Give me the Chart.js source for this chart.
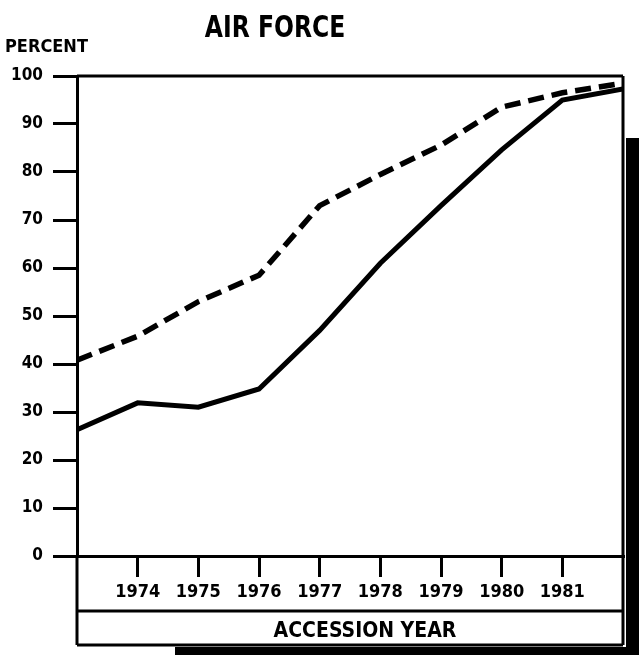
<!DOCTYPE html>
<html>
<head>
<meta charset="utf-8">
<script src="https://cdn.jsdelivr.net/npm/chart.js@4/dist/chart.umd.min.js"></script>
<style>
html,body{margin:0;padding:0;background:#fff;}
canvas{display:block;}
</style>
</head>
<body>
<canvas id="c" width="639" height="655"></canvas>
<script>
const titleText = "AIR FORCE";
const yAxisLabel = "PERCENT";
const xAxisLabel = "ACCESSION YEAR";
const years = [1973, 1974, 1975, 1976, 1977, 1978, 1979, 1980, 1981, 1982];
const tickYears = [1974, 1975, 1976, 1977, 1978, 1979, 1980, 1981];
const dashedSeries = [40.8, 45.8, 53, 58.5, 73, 79.5, 85.6, 93.5, 96.5, 98.5];
const solidSeries = [26.3, 31.9, 31, 34.8, 47, 61, 73, 84.6, 95, 97.3];

const FONT = "'DejaVu Sans Condensed', 'Liberation Sans', Arial, sans-serif";

const toXY = arr => arr.map((v, i) => ({x: years[i], y: v}));

const decor = {
  id: 'decor',
  afterDraw(chart) {
    const ctx = chart.ctx;
    const a = chart.chartArea;
    ctx.save();
    ctx.fillStyle = '#000';
    ctx.textBaseline = 'alphabetic';
    // title (condensed)
    ctx.save();
    ctx.translate(275, 37);
    ctx.scale(0.87, 1);
    ctx.textAlign = 'center';
    ctx.font = "bold 30px " + FONT;
    ctx.fillText(titleText, 0, 0);
    ctx.restore();
    ctx.textAlign = 'left';
    ctx.font = "bold 18px " + FONT;
    ctx.fillText(yAxisLabel, 5, 52);
    // frame
    ctx.strokeStyle = '#000';
    ctx.lineWidth = 3;
    ctx.beginPath();
    ctx.moveTo(a.left, a.top);
    ctx.lineTo(a.right, a.top);
    ctx.moveTo(a.right, a.top);
    ctx.lineTo(a.right, 645);
    ctx.moveTo(a.left, a.bottom);
    ctx.lineTo(a.left, 645);
    ctx.moveTo(a.left, 611);
    ctx.lineTo(a.right, 611);
    ctx.moveTo(a.left, 645);
    ctx.lineTo(a.right, 645);
    ctx.stroke();
    // shadow
    ctx.fillStyle = '#000';
    ctx.fillRect(a.right + 3, 138, 639 - a.right - 3, 655 - 138);
    ctx.fillRect(175, 647, 639 - 175, 8);
    // x axis label
    ctx.textAlign = 'center';
    ctx.font = "bold 21px " + FONT;
    ctx.fillText(xAxisLabel, 365, 637);
    ctx.restore();
  }
};

new Chart(document.getElementById('c'), {
  type: 'line',
  data: {
    datasets: [
      {
        data: toXY(dashedSeries),
        borderColor: '#000',
        borderWidth: 5.5,
        borderDash: [16, 8],
        pointRadius: 0,
        tension: 0,
        fill: false
      },
      {
        data: toXY(solidSeries),
        borderColor: '#000',
        borderWidth: 5,
        pointRadius: 0,
        tension: 0,
        fill: false
      }
    ]
  },
  options: {
    responsive: false,
    animation: false,
    layout: {padding: {top: 76, left: 0, right: 16, bottom: 0}},
    plugins: {legend: {display: false}, tooltip: {enabled: false}, title: {display: false}},
    scales: {
      x: {
        type: 'linear',
        min: years[0],
        max: years[years.length - 1],
        afterBuildTicks: s => { s.ticks = tickYears.map(v => ({value: v})); },
        afterFit: s => { s.height = 99; },
        ticks: {
          color: '#000',
          font: {family: FONT, size: 18, weight: 'bold'},
          padding: 5,
          maxRotation: 0,
          autoSkip: false,
          callback: v => String(v)
        },
        grid: {drawOnChartArea: false, drawTicks: true, tickLength: 21, color: '#000', lineWidth: 3},
        border: {display: true, color: '#000', width: 3}
      },
      y: {
        min: 0,
        max: 100,
        afterFit: s => { s.width = 77; },
        ticks: {
          stepSize: 10,
          color: '#000',
          font: {family: FONT, size: 17, weight: 'bold'},
          padding: 10
        },
        grid: {drawOnChartArea: false, drawTicks: true, tickLength: 24, color: '#000', lineWidth: 3},
        border: {display: true, color: '#000', width: 3}
      }
    }
  },
  plugins: [decor]
});
</script>
</body>
</html>
